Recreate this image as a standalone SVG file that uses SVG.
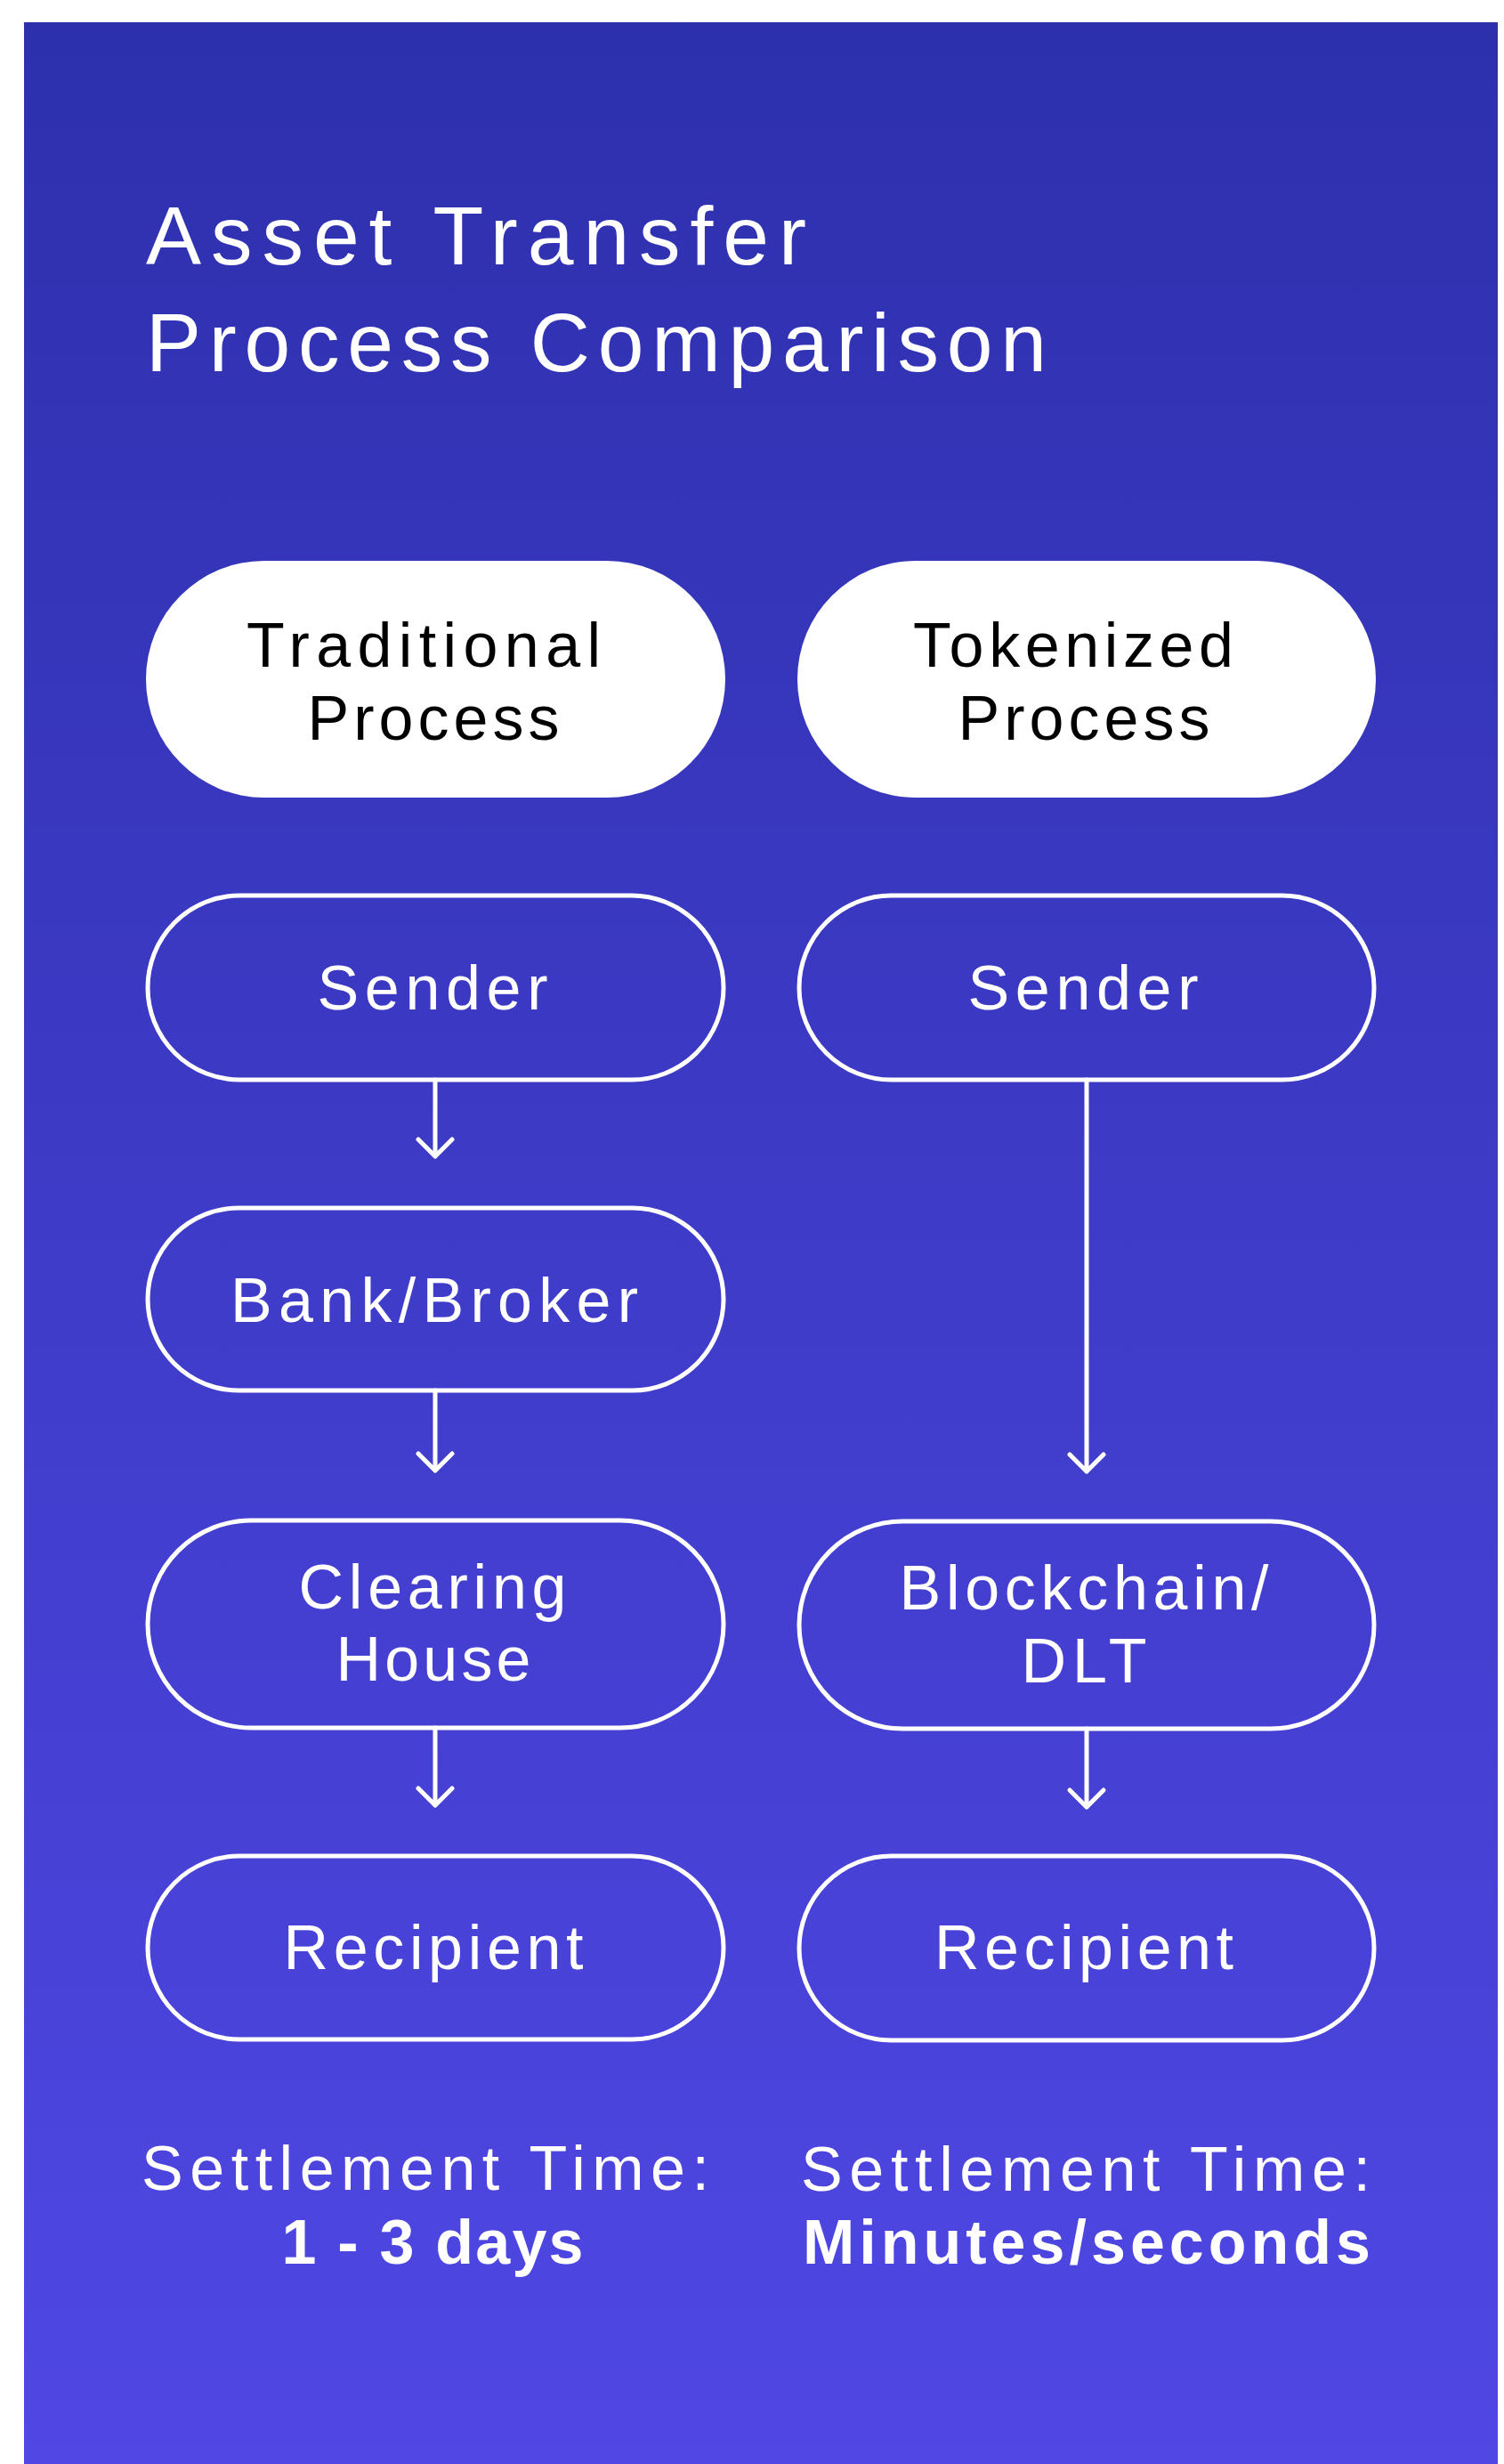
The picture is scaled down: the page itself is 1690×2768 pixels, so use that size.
<svg xmlns="http://www.w3.org/2000/svg" width="1690" height="2768" viewBox="0 0 1690 2768">
  <defs>
    <linearGradient id="bg" x1="0" y1="0" x2="0" y2="1">
      <stop offset="0" stop-color="#2d30ad"/>
      <stop offset="1" stop-color="#5047e4"/>
    </linearGradient>
    <style>
      text { font-family: "Liberation Sans", Arial, sans-serif; }
      .title { font-size: 93px; fill: #ffffff; }
      .head { font-size: 70px; fill: #000000; text-anchor: middle; }
      .lbl { font-size: 70px; fill: #ffffff; text-anchor: middle; }
      .time { font-size: 70px; fill: #ffffff; text-anchor: middle; }
      .bold { font-weight: bold; }
      .pill-head { fill: #ffffff; }
      .pill { fill: none; stroke: #ffffff; stroke-width: 5; }
      .conn { fill: none; stroke: #ffffff; stroke-width: 5; stroke-linecap: round; stroke-linejoin: round; }
    </style>
  </defs>

  <rect x="0" y="0" width="1690" height="2768" fill="#ffffff"/>
  <rect x="27" y="25" width="1656" height="2743" fill="url(#bg)"/>

  <!-- heading -->
  <g id="title">
    <text class="title" x="164" y="297" textLength="742" lengthAdjust="spacing">Asset Transfer</text>
    <text class="title" x="164" y="417" textLength="1012" lengthAdjust="spacing">Process Comparison</text>
  </g>

  <!-- column headers -->
  <g id="traditional-header">
    <rect class="pill-head" x="164" y="630" width="651" height="266" rx="133"/>
    <text class="head" x="476" y="749" textLength="398" lengthAdjust="spacing">Traditional</text>
    <text class="head" x="487" y="831" textLength="283" lengthAdjust="spacing">Process</text>
  </g>
  <g id="tokenized-header">
    <rect class="pill-head" x="896" y="630" width="650" height="266" rx="133"/>
    <text class="head" x="1206" y="749" textLength="360" lengthAdjust="spacing">Tokenized</text>
    <text class="head" x="1218" y="831" textLength="283" lengthAdjust="spacing">Process</text>
  </g>

  <!-- traditional flow -->
  <g id="trad-sender">
    <rect class="pill" x="166" y="1006" width="647" height="207" rx="103.5"/>
    <text class="lbl" x="486" y="1134" textLength="259" lengthAdjust="spacing">Sender</text>
  </g>
  <g id="trad-bank">
    <rect class="pill" x="166" y="1357" width="647" height="205" rx="102.5"/>
    <text class="lbl" x="488" y="1485" textLength="458" lengthAdjust="spacing">Bank/Broker</text>
  </g>
  <g id="trad-clearing">
    <rect class="pill" x="166" y="1708" width="647" height="233" rx="116.5"/>
    <text class="lbl" x="486" y="1807" textLength="301" lengthAdjust="spacing">Clearing</text>
    <text class="lbl" x="487" y="1888" textLength="219" lengthAdjust="spacing">House</text>
  </g>
  <g id="trad-recipient">
    <rect class="pill" x="166" y="2085" width="647" height="206" rx="103"/>
    <text class="lbl" x="487" y="2212" textLength="337" lengthAdjust="spacing">Recipient</text>
  </g>

  <!-- tokenized flow -->
  <g id="tok-sender">
    <rect class="pill" x="898" y="1006" width="646" height="207" rx="103.5"/>
    <text class="lbl" x="1217" y="1134" textLength="259" lengthAdjust="spacing">Sender</text>
  </g>
  <g id="tok-blockchain">
    <rect class="pill" x="898" y="1709" width="646" height="233" rx="116.5"/>
    <text class="lbl" x="1218" y="1808" textLength="415" lengthAdjust="spacing">Blockchain/</text>
    <text class="lbl" x="1218" y="1890" textLength="141" lengthAdjust="spacing">DLT</text>
  </g>
  <g id="tok-recipient">
    <rect class="pill" x="898" y="2085" width="646" height="207" rx="103.5"/>
    <text class="lbl" x="1218" y="2212" textLength="336" lengthAdjust="spacing">Recipient</text>
  </g>

  <!-- connectors -->
  <g id="connectors">
    <path class="conn" d="M489 1213 V1299 M470 1280 L489 1299 L508 1280"/>
    <path class="conn" d="M489 1562 V1652 M470 1633 L489 1652 L508 1633"/>
    <path class="conn" d="M489 1941 V2028 M470 2009 L489 2028 L508 2009"/>
    <path class="conn" d="M1221 1213 V1653 M1202 1634 L1221 1653 L1240 1634"/>
    <path class="conn" d="M1221 1942 V2030 M1202 2011 L1221 2030 L1240 2011"/>
  </g>

  <!-- settlement summary -->
  <g id="trad-settlement">
    <text class="time" x="478" y="2460" textLength="638" lengthAdjust="spacing">Settlement Time:</text>
    <text class="time bold" x="486" y="2543" textLength="339" lengthAdjust="spacing">1 - 3 days</text>
  </g>
  <g id="tok-settlement">
    <text class="time" x="1220" y="2461" textLength="640" lengthAdjust="spacing">Settlement Time:</text>
    <text class="time bold" x="1221" y="2543" textLength="638" lengthAdjust="spacing">Minutes/seconds</text>
  </g>
</svg>
